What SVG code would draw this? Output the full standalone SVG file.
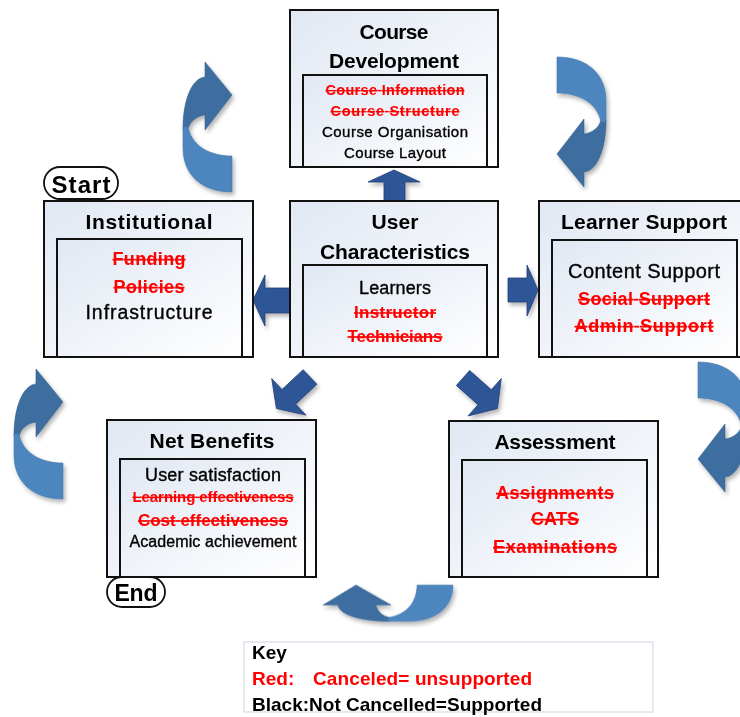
<svg xmlns="http://www.w3.org/2000/svg" xmlns:xlink="http://www.w3.org/1999/xlink" width="740" height="717" viewBox="0 0 740 717">
<style>
.box{fill:url(#bg);stroke:#111;stroke-width:2}
.pill{fill:#fff;stroke:#111;stroke-width:1.8}
text{font-family:"Liberation Sans",Arial,sans-serif;text-anchor:middle}
.ti{font-size:21px;font-weight:bold;fill:#000}
.bk{font-weight:normal;fill:#000;stroke:#000;stroke-width:0.35}
.rd{font-weight:bold;fill:#ff0000;text-decoration:line-through}
.ky{font-size:19px;font-weight:bold;text-anchor:start}
.ba{fill:#2f5496;stroke:#22407a;stroke-width:0.8}
.cl{fill:#4e86bf;stroke:#4579ad;stroke-width:0.6}
.cd{fill:#3e6e9f;stroke:#36628f;stroke-width:0.6}
</style>
<defs>
<linearGradient id="bg" x1="0" y1="0" x2="1" y2="1">
<stop offset="0" stop-color="#e1e8f3"/>
<stop offset="1" stop-color="#ffffff"/>
</linearGradient>
<filter id="sh" x="-10%" y="-10%" width="130%" height="130%">
<feDropShadow dx="2" dy="3" stdDeviation="2.2" flood-color="#000" flood-opacity="0.3"/>
</filter>
<g id="ca">
<path class="cd" d="M183,129 C183,100 192,78 205,77 L205,62 L232,95 L205,130 L205,115 C197,116 190,121 188,129 Z"/>
<path class="cl" d="M183,127 L183,148 C183,175 202,192 232,192 L232,156 C211,156 192,147 188,127 Z"/>
</g>
<path id="da" d="M0,-10 L29,-10 L29,-25 L46,0 L29,25 L29,10 L0,10 Z"/>
</defs>
<rect width="740" height="717" fill="#fff"/>

<g id="connectors">
<g filter="url(#sh)">
<use xlink:href="#ca"/>
<use xlink:href="#ca" transform="matrix(-1,0,0,-1,789,249)"/>
<use xlink:href="#ca" transform="matrix(-1,0,0,-1,930,554)"/>
<use xlink:href="#ca" transform="translate(-169,307)"/>
<use xlink:href="#ca" transform="matrix(0,-0.74,1,0,261,756.7)"/>
</g>
<g filter="url(#sh)">
<polygon class="ba" points="394,170 420,182 405,182 405,201 384,201 384,182 368,182"/>
<polygon class="ba" points="253,300 265,275 265,288 290,288 290,313 265,313 265,326"/>
<polygon class="ba" points="538,290 527,265 527,278 508,278 508,302 527,302 527,316"/>
<use xlink:href="#da" class="ba" transform="translate(310,377) rotate(136.8)"/>
<use xlink:href="#da" class="ba" transform="translate(463,378) rotate(41.6)"/>
</g>
</g>

<g id="course-development">
<rect class="box" x="290" y="10" width="208" height="157"/>
<rect class="box" x="303" y="75" width="184" height="92"/>
<text class="ti" x="394" y="39" textLength="69">Course</text>
<text class="ti" x="394" y="68" textLength="130">Development</text>
<text class="rd" x="395" y="95" font-size="14.5" textLength="139">Course Information</text>
<text class="rd" x="395" y="116" font-size="14.5" textLength="129">Course Structure</text>
<text class="bk" x="395" y="137" font-size="15" textLength="146">Course Organisation</text>
<text class="bk" x="395" y="158" font-size="15" textLength="102">Course Layout</text>
</g>

<g id="user-characteristics">
<rect class="box" x="290" y="201" width="208" height="156"/>
<rect class="box" x="303" y="265" width="184" height="92"/>
<text class="ti" x="395" y="229" textLength="47">User</text>
<text class="ti" x="395" y="259" textLength="150">Characteristics</text>
<text class="bk" x="395" y="294" font-size="18" textLength="72">Learners</text>
<text class="rd" x="395" y="318" font-size="17" textLength="82">Instructor</text>
<text class="rd" x="395" y="342" font-size="17" textLength="95">Technicians</text>
</g>

<g id="institutional">
<rect class="box" x="44" y="201" width="209" height="156"/>
<rect class="box" x="57" y="239" width="185" height="118"/>
<text class="ti" x="149" y="229" textLength="127">Institutional</text>
<text class="rd" x="149" y="265" font-size="18" textLength="73">Funding</text>
<text class="rd" x="149" y="293" font-size="18" textLength="71">Policies</text>
<text class="bk" x="149" y="319" font-size="19.5" textLength="127">Infrastructure</text>
</g>

<g id="start">
<rect class="pill" x="44" y="167" width="74" height="32" rx="16"/>
<text x="81" y="193" font-size="24" font-weight="bold" textLength="59">Start</text>
</g>

<g id="learner-support">
<rect class="box" x="539" y="201" width="209" height="156"/>
<rect class="box" x="552" y="240" width="185" height="117"/>
<text class="ti" x="644" y="229" textLength="166">Learner Support</text>
<text class="bk" x="644" y="278" font-size="20" textLength="152">Content Support</text>
<text class="rd" x="644" y="305" font-size="18" textLength="132">Social Support</text>
<text class="rd" x="644" y="332" font-size="18" textLength="139">Admin Support</text>
</g>

<g id="net-benefits">
<rect class="box" x="107" y="420" width="209" height="157"/>
<rect class="box" x="120" y="459" width="185" height="118"/>
<text class="ti" x="212" y="448" textLength="125">Net Benefits</text>
<text class="bk" x="213" y="481" font-size="18" textLength="136">User satisfaction</text>
<text class="rd" x="213" y="502" font-size="15" textLength="161">Learning effectiveness</text>
<text class="rd" x="213" y="526" font-size="17" textLength="150">Cost effectiveness</text>
<text class="bk" x="213" y="547" font-size="16" textLength="167">Academic achievement</text>
</g>

<g id="end">
<rect class="pill" x="107" y="577" width="58" height="30" rx="15"/>
<text x="136" y="601" font-size="23" font-weight="bold" textLength="43">End</text>
</g>

<g id="assessment">
<rect class="box" x="449" y="421" width="209" height="156"/>
<rect class="box" x="462" y="460" width="185" height="117"/>
<text class="ti" x="555" y="449" textLength="121">Assessment</text>
<text class="rd" x="555" y="499" font-size="18" textLength="118">Assignments</text>
<text class="rd" x="555" y="525" font-size="18" textLength="48">CATS</text>
<text class="rd" x="555" y="553" font-size="18" textLength="124">Examinations</text>
</g>

<g id="key">
<rect x="244" y="642" width="409" height="70" fill="#fff" stroke="#dce3ec" stroke-width="1.5"/>
<text class="ky" x="252" y="659" fill="#000">Key</text>
<text class="ky" x="252" y="685" fill="#ff0000">Red:</text>
<text class="ky" x="313" y="685" fill="#ff0000" textLength="219">Canceled= unsupported</text>
<text class="ky" x="252" y="711" fill="#000" textLength="290">Black:Not Cancelled=Supported</text>
</g>
</svg>
